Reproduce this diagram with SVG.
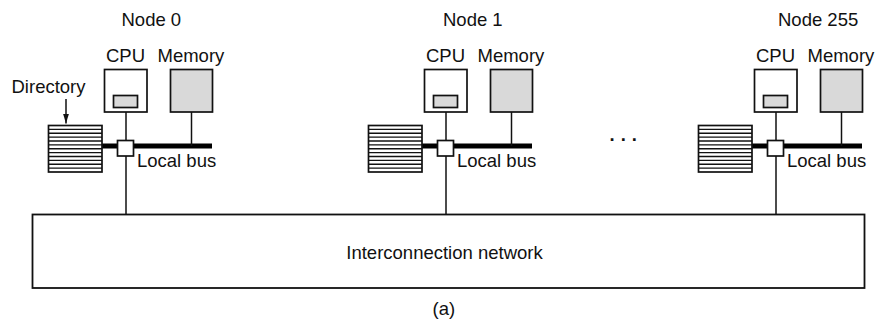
<svg xmlns="http://www.w3.org/2000/svg" width="877" height="322" viewBox="0 0 877 322">
  <defs>
    <style>
      text { font-family: "Liberation Sans", Arial, sans-serif; font-size: 18.5px; fill: #111; }
      .box { fill: #fff; stroke: #111; stroke-width: 1.7; }
      .mem { fill: #d9d9d9; stroke: #111; stroke-width: 1.7; }
      .wire { stroke: #111; stroke-width: 1.5; fill: none; }
      .bus { stroke: #000; stroke-width: 5; }
      .stripe { stroke: #111; stroke-width: 1.4; }
    </style>
    <marker id="arrow" viewBox="0 0 10 10" refX="10" refY="5" markerWidth="10" markerHeight="10" markerUnits="userSpaceOnUse" orient="auto">
      <path d="M0,2 L10,5 L0,8 z" fill="#111"/>
    </marker>
    <!-- one node: directory, CPU with cache, memory, bus and switch -->
    <g id="nodeTpl">
      <line class="bus" x1="101" y1="146" x2="212" y2="146"/>
      <rect class="box" x="104.5" y="69.5" width="42.5" height="42.5"/>
      <rect class="mem" x="113.5" y="95.5" width="24" height="12"/>
      <rect class="mem" x="170.5" y="69.5" width="42" height="42.5"/>
      <line class="wire" x1="126" y1="112" x2="126" y2="141"/>
      <line class="wire" x1="191.5" y1="112" x2="191.5" y2="146"/>
      <rect class="box" x="48.5" y="125.5" width="53.5" height="46.5"/>
      <g class="stripe">
        <line x1="48.5" y1="129.4" x2="102" y2="129.4"/>
        <line x1="48.5" y1="133.25" x2="102" y2="133.25"/>
        <line x1="48.5" y1="137.1" x2="102" y2="137.1"/>
        <line x1="48.5" y1="141" x2="102" y2="141"/>
        <line x1="48.5" y1="144.9" x2="102" y2="144.9"/>
        <line x1="48.5" y1="148.75" x2="102" y2="148.75"/>
        <line x1="48.5" y1="152.6" x2="102" y2="152.6"/>
        <line x1="48.5" y1="156.5" x2="102" y2="156.5"/>
        <line x1="48.5" y1="160.4" x2="102" y2="160.4"/>
        <line x1="48.5" y1="164.25" x2="102" y2="164.25"/>
        <line x1="48.5" y1="168.1" x2="102" y2="168.1"/>
      </g>
      <rect class="box" x="117.5" y="140.5" width="16" height="15.5"/>
      <text x="106" y="61.5">CPU</text>
      <text x="157.5" y="61.5">Memory</text>
      <text x="137" y="166.5">Local bus</text>
    </g>
  </defs>

  <g id="node0">
    <use href="#nodeTpl"/>
    <text x="121.5" y="26">Node 0</text>
  </g>
  <g id="node1">
    <use href="#nodeTpl" transform="translate(320,0)"/>
    <text x="443" y="26">Node 1</text>
  </g>
  <g id="node255">
    <use href="#nodeTpl" transform="translate(650,0)"/>
    <text x="778" y="26">Node 255</text>
  </g>

  <g id="directory-label">
    <text x="11.5" y="92.5">Directory</text>
  </g>

  <g id="ellipsis">
    <text x="609.5" y="141" style="letter-spacing:6px;font-weight:bold">...</text>
  </g>

  <g id="network">
    <rect class="box" x="32.5" y="214.5" width="832" height="73.5" style="stroke-width:1.8"/>
    <text x="444.5" y="259.3" text-anchor="middle">Interconnection network</text>
  </g>

  <g id="connectors">
    <line class="wire" x1="66" y1="99" x2="66" y2="123.5" marker-end="url(#arrow)"/>
    <line class="wire" x1="126" y1="156" x2="126" y2="214.5"/>
    <line class="wire" x1="446" y1="156" x2="446" y2="214.5"/>
    <line class="wire" x1="776" y1="156" x2="776" y2="214.5"/>
  </g>

  <text x="443.8" y="315" text-anchor="middle">(a)</text>
</svg>
